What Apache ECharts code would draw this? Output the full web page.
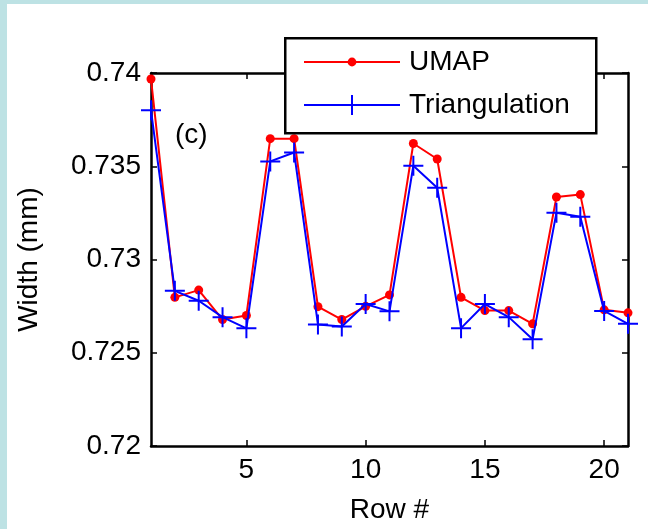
<!DOCTYPE html>
<html>
<head>
<meta charset="utf-8">
<script src="https://cdn.jsdelivr.net/npm/echarts@6/dist/echarts.min.js"></script>
<style>
html,body{margin:0;padding:0;background:#bde2e4;}
#wrap{position:absolute;left:0;top:0;width:648px;height:529px;background:#bde2e4;}
#chart{position:absolute;left:7px;top:4px;width:641px;height:525px;background:#ffffff;}
</style>
</head>
<body>
<div id="wrap"><div id="chart"></div></div>
<script>
// Data
const rows = [1,2,3,4,5,6,7,8,9,10,11,12,13,14,15,16,17,18,19,20,21];
const umap = [0.73968,0.72797,0.72836,0.72678,0.72700,0.73648,0.73648,0.72747,0.72678,0.72749,0.72810,0.73622,0.73539,0.72797,0.72726,0.72726,0.72655,0.73335,0.73348,0.72730,0.72714];
const triangulation = [0.73800,0.72832,0.72779,0.72691,0.72631,0.73526,0.73574,0.72652,0.72641,0.72761,0.72722,0.73503,0.73385,0.72632,0.72761,0.72691,0.72572,0.73251,0.73229,0.72724,0.72655];
const xTicks = [5,10,15,20];
const yTicks = [0.72,0.725,0.73,0.735,0.74];
const seriesNames = ['UMAP','Triangulation'];

const FONT = '"Liberation Sans", Arial, sans-serif';
const plusPath = 'path://M0,9 L20,9 L20,11 L0,11 Z M9,0 L11,0 L11,20 L9,20 Z';

const chart = echarts.init(document.getElementById('chart'), null, {renderer:'canvas'});

const axisLineStyle = {color:'#000', width:2.5};
const baseX = {
  type:'value', min:rows[0], max:rows[rows.length-1],
  splitLine:{show:false},
  axisLine:{show:true, onZero:false, lineStyle:axisLineStyle},
  axisTick:{show:true, inside:true, length:6, customValues:xTicks, lineStyle:{color:'#000', width:1.5}},
};
const baseY = {
  type:'value', min:yTicks[0], max:yTicks[yTicks.length-1], interval:0.005,
  splitLine:{show:false},
  axisLine:{show:true, onZero:false, lineStyle:axisLineStyle},
  axisTick:{show:true, inside:true, length:6, lineStyle:{color:'#000', width:1.5}},
};

chart.setOption({
  animation:false,
  textStyle:{fontFamily:FONT},
  grid:{left:143, right:20, top:69, bottom:77, containLabel:false},
  xAxis:[
    Object.assign({}, baseX, {
      position:'bottom',
      axisLabel:{show:true, customValues:xTicks, fontSize:28, color:'#000', fontFamily:FONT, margin:10},
      name:'Row #', nameLocation:'middle', nameGap:50,
      nameTextStyle:{fontSize:28, color:'#000', fontFamily:FONT}
    }),
    Object.assign({}, baseX, {position:'top', axisLabel:{show:false}})
  ],
  yAxis:[
    Object.assign({}, baseY, {
      position:'left',
      axisLabel:{show:true, fontSize:28, color:'#000', fontFamily:FONT, margin:10,
        formatter:function(v){ return String(parseFloat(v.toFixed(4))); }},
      name:'Width (mm)', nameLocation:'middle', nameGap:108,
      nameTextStyle:{fontSize:28, color:'#000', fontFamily:FONT}
    }),
    Object.assign({}, baseY, {position:'right', axisLabel:{show:false}})
  ],
  legend:[
    {
      data:[seriesNames[0]], left:296, top:44, orient:'vertical', padding:0,
      itemWidth:96, itemHeight:11, itemGap:0,
      textStyle:{fontSize:28, color:'#000', fontFamily:FONT, padding:[0,0,0,4]},
      z:10
    },
    {
      data:[seriesNames[1]], left:296, top:87, orient:'vertical', padding:0,
      itemWidth:96, itemHeight:25, itemGap:0,
      textStyle:{fontSize:28, color:'#000', fontFamily:FONT, padding:[0,0,0,4]},
      z:10
    }
  ],
  graphic:[
    {type:'rect', left:277, top:33, z:8, shape:{width:311, height:95},
     style:{fill:'#fff', stroke:'#000', lineWidth:2.5}},
    {type:'text', left:168, top:117, z:8,
     style:{text:'(c)', fontSize:28, fontFamily:FONT, fill:'#000'}}
  ],
  series:[
    {
      name:seriesNames[0], type:'line', xAxisIndex:0, yAxisIndex:0,
      data:rows.map((r,i)=>[r, umap[i]]),
      symbol:'circle', symbolSize:9, showSymbol:true, clip:false,
      lineStyle:{color:'#ff0000', width:2},
      itemStyle:{color:'#ff0000'},
      z:3
    },
    {
      name:seriesNames[1], type:'line', xAxisIndex:0, yAxisIndex:0,
      data:rows.map((r,i)=>[r, triangulation[i]]),
      symbol:plusPath, symbolSize:20, showSymbol:true, clip:false,
      lineStyle:{color:'#0000ff', width:2},
      itemStyle:{color:'#0000ff'},
      z:4
    }
  ]
});
</script>
</body>
</html>
